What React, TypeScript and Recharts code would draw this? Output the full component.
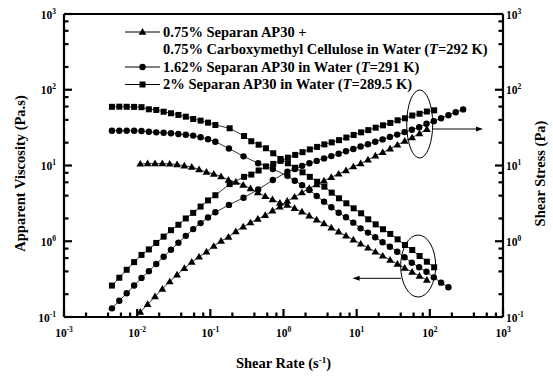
import React from 'react';
import { ScatterChart, Scatter, XAxis, YAxis, Legend, ReferenceDot, ReferenceLine, Label } from 'recharts';

const FONT = '"Liberation Serif", "Times New Roman", Times, serif';
const INK = '#000';

// axis decades + minor tick steps (2,4,6,8 like the original)
const rateDecades = [0.001, 0.01, 0.1, 1, 10, 100, 1000];
const valueDecades = [0.1, 1, 10, 100, 1000];
const minorSteps = [2, 4, 6, 8];

// 2% Separan AP30 in water (squares)
const sqRate = [0.00452, 0.0057, 0.00719, 0.00908, 0.01146, 0.01445, 0.01824, 0.023, 0.029, 0.0366, 0.0462, 0.0583, 0.0736, 0.0929, 0.1172, 0.1837, 0.289, 0.363, 0.457, 0.575, 0.724, 0.912, 1.148, 1.445, 1.82, 2.29, 2.88, 3.62, 4.56, 5.74, 7.23, 9.1, 11.5, 14.4, 18.2, 22.9, 28.8, 36.3, 45.7, 57.5, 72.4, 91.1, 114.6];
const sqViscosity = [59.5, 59.8, 59.6, 59.4, 58.9, 55.2, 54.1, 51.3, 48.9, 46.5, 44.1, 41.1, 39.1, 36.8, 34.3, 31.0, 24.5, 20.9, 18.8, 16.9, 14.5, 12.2, 10.7, 9.33, 8.13, 7.08, 6.1, 5.25, 4.38, 3.69, 3.17, 2.72, 2.34, 1.95, 1.67, 1.44, 1.25, 1.06, 0.893, 0.766, 0.638, 0.537, 0.453];
const sqStress = [0.26, 0.33, 0.42, 0.53, 0.66, 0.78, 0.95, 1.15, 1.4, 1.65, 2.0, 2.37, 2.87, 3.46, 4.05, 5.69, 7.08, 7.59, 8.59, 9.72, 10.5, 11.5, 12.7, 13.8, 15.0, 16.3, 17.6, 19.0, 20.2, 21.6, 23.4, 25.3, 27.4, 29.3, 31.6, 33.9, 36.5, 39.5, 42.0, 45.7, 48.2, 51.6, 53.5];

// 1.62% Separan AP30 in water (circles)
const ciRate = [0.00452, 0.0057, 0.00719, 0.00908, 0.01146, 0.01445, 0.01824, 0.023, 0.029, 0.0366, 0.0462, 0.0583, 0.0736, 0.0929, 0.1172, 0.1795, 0.2844, 0.4508, 0.7145, 1.132, 1.426, 1.795, 2.259, 2.844, 3.581, 4.508, 5.675, 7.145, 8.995, 11.32, 14.26, 17.95, 22.59, 28.44, 35.81, 45.08, 56.75, 71.45, 89.95, 113.2, 142.6, 179.5];
const ciViscosity = [28.8, 28.8, 28.7, 28.7, 28.6, 27.9, 27.4, 27.1, 26.6, 26.1, 25.5, 24.8, 23.6, 22.2, 20.6, 16.8, 13.2, 10.7, 9.0, 7.3, 6.3, 5.5, 4.75, 3.96, 3.33, 2.81, 2.38, 2.07, 1.76, 1.48, 1.3, 1.13, 0.968, 0.847, 0.728, 0.614, 0.521, 0.453, 0.396, 0.334, 0.284, 0.247];
const ciStressRate = [0.00452, 0.0057, 0.00719, 0.00908, 0.01146, 0.01445, 0.01824, 0.023, 0.029, 0.0366, 0.0462, 0.0583, 0.0736, 0.0929, 0.1172, 0.1795, 0.2844, 0.4508, 0.7145, 1.132, 1.426, 1.795, 2.259, 2.844, 3.581, 4.508, 5.675, 7.145, 8.995, 11.32, 14.26, 17.95, 22.59, 28.44, 35.81, 45.08, 56.75, 71.45, 89.95, 113.2, 142.6, 179.5, 226, 285];
const ciStress = [0.13, 0.164, 0.206, 0.261, 0.328, 0.403, 0.5, 0.623, 0.771, 0.955, 1.178, 1.446, 1.737, 2.06, 2.41, 3.02, 3.75, 4.82, 6.43, 8.26, 8.98, 9.9, 10.7, 11.5, 12.4, 13.3, 14.3, 15.4, 16.5, 17.8, 19.1, 20.6, 22.1, 23.8, 25.6, 27.6, 29.7, 32.0, 35.5, 38.5, 42.0, 46.0, 50.5, 55.0];

// 0.75% Separan AP30 + 0.75% CMC in water (triangles)
const trRate = [0.01104, 0.0139, 0.01754, 0.02208, 0.02786, 0.03508, 0.04416, 0.05572, 0.07015, 0.0885, 0.1114, 0.1403, 0.177, 0.2228, 0.2812, 0.354, 0.4457, 0.5623, 0.7079, 0.893, 1.125, 1.416, 1.786, 2.249, 2.838, 3.573, 4.498, 5.675, 7.145, 9.016, 11.35, 14.29, 18.03, 22.7, 28.64, 36.06, 45.39, 57.28, 72.11, 90.99];
const trViscosity = [10.5, 10.6, 10.6, 10.6, 10.5, 10.3, 9.93, 9.55, 8.85, 8.2, 7.73, 7.16, 6.44, 6.05, 5.53, 4.97, 4.41, 3.92, 3.56, 3.2, 3.01, 2.72, 2.45, 2.17, 1.92, 1.71, 1.51, 1.33, 1.18, 1.045, 0.923, 0.817, 0.723, 0.641, 0.565, 0.501, 0.444, 0.393, 0.348, 0.308];
const trStress = [0.116, 0.147, 0.186, 0.234, 0.293, 0.361, 0.439, 0.532, 0.621, 0.726, 0.861, 1.005, 1.14, 1.348, 1.555, 1.76, 1.966, 2.2, 2.52, 2.86, 3.39, 3.85, 4.38, 5.0, 5.6, 6.3, 7.0, 7.75, 8.6, 9.65, 10.6, 11.9, 13.4, 14.9, 16.6, 18.7, 21.0, 23.3, 26.5, 30.0];

// annotation anchors (data coords, right axis)
const stressMark = { x: 72.7, y: 35.3 };
const stressArrow = [{ x: 107.6, y: 30.3 }, { x: 533, y: 30.3 }];
const viscMark = { x: 69.3, y: 0.471 };
const viscArrow = [{ x: 40.3, y: 0.324 }, { x: 8.8, y: 0.324 }];

const buildTicks = (decades: number[]) =>
  decades.flatMap((d, i) => (i < decades.length - 1 ? [d, ...minorSteps.map((s) => +(d * s).toPrecision(3))] : [d]));
const rateTicks = buildTicks(rateDecades);
const valueTicks = buildTicks(valueDecades);
const X_MIN = rateDecades[0];
const X_MAX = rateDecades[rateDecades.length - 1];
const Y_MIN = valueDecades[0];
const Y_MAX = valueDecades[valueDecades.length - 1];

const pts = (xs: number[], ys: number[]) => xs.map((x, i) => ({ x, y: ys[i] }));

const TM = 4; // tick margin
const MAJOR = 8;
const MINOR = 4.5;
const isMajor = (v: number) => Math.abs(Math.log10(v) - Math.round(Math.log10(v))) < 1e-6;
const expOf = (v: number) => String(Math.round(Math.log10(v)));

const Pow = ({ x, y, v, anchor }: any) => (
  <text x={x} y={y} textAnchor={anchor} fontFamily={FONT} fontWeight="bold" fontSize={11.5} fill={INK}>
    10<tspan dy={-5} fontSize={7.5}>{expOf(v)}</tspan>
  </text>
);

// inward tick marks (filled bars) drawn from the tick renderer
const vMark = (x: number, y: number, len: number) => `M${x - 1.1},${y}h2.2v${len}h-2.2z`;
const hMark = (x: number, y: number, len: number) => `M${x},${y - 1.1}v2.2h${len}v-2.2z`;

const BottomTick = (p: any) => {
  const v = p.payload.value;
  const ay = p.y - TM;
  const major = isMajor(v);
  return (
    <g>
      <path d={vMark(p.x, ay, -(major ? MAJOR : MINOR))} fill={INK} stroke="none" />
      {major ? <Pow x={p.x} y={ay + 20} v={v} anchor="middle" /> : null}
    </g>
  );
};
const TopTick = (p: any) => {
  const v = p.payload.value;
  const ay = p.y + TM;
  return (
    <g>
      <path d={vMark(p.x, ay, isMajor(v) ? MAJOR : MINOR)} fill={INK} stroke="none" />
    </g>
  );
};
const LeftTick = (p: any) => {
  const v = p.payload.value;
  const ax = p.x + TM;
  const major = isMajor(v);
  return (
    <g>
      <path d={hMark(ax, p.y, major ? MAJOR : MINOR)} fill={INK} stroke="none" />
      {major ? <Pow x={ax - 8} y={p.y + 4.5} v={v} anchor="end" /> : null}
    </g>
  );
};
const RightTick = (p: any) => {
  const v = p.payload.value;
  const ax = p.x - TM;
  const major = isMajor(v);
  return (
    <g>
      <path d={hMark(ax, p.y, -(major ? MAJOR : MINOR))} fill={INK} stroke="none" />
      {major ? <Pow x={ax + 3} y={p.y + 4.5} v={v} anchor="start" /> : null}
    </g>
  );
};

const Square = ({ cx, cy }: any) => <rect x={cx - 3} y={cy - 3} width={6} height={6} fill={INK} />;
const Dot = ({ cx, cy }: any) => <circle cx={cx} cy={cy} r={3.2} fill={INK} />;
const Tri = ({ cx, cy }: any) => (
  <polygon points={`${cx},${cy - 4} ${cx - 3.9},${cy + 2.7} ${cx + 3.9},${cy + 2.7}`} fill={INK} />
);

const titleStyle = { fontFamily: FONT, fontWeight: 'bold' as const, fontSize: 14.5, fill: INK };

const XTitle = ({ viewBox }: any) => (
  <text x={viewBox.x + viewBox.width / 2} y={viewBox.y + 51} textAnchor="middle" style={titleStyle}>
    Shear Rate (s<tspan dy={-5} fontSize={9}>-1</tspan>
    <tspan dy={5}>)</tspan>
  </text>
);

const YTitle = (text: string, dx: number) => ({ viewBox }: any) => {
  const cx = viewBox.x + dx;
  const cy = viewBox.y + viewBox.height / 2 + 8;
  return (
    <text x={cx} y={cy} transform={`rotate(-90 ${cx} ${cy})`} textAnchor="middle" dominantBaseline="central" style={titleStyle}>
      {text}
    </text>
  );
};

const Ellipse = (rx: number, ry: number) => (p: any) => (
  <ellipse cx={p.cx} cy={p.cy} rx={rx} ry={ry} fill="none" stroke={INK} strokeWidth={1} />
);

const Arrow = (p: any) => {
  const d = p.x2 > p.x1 ? 1 : -1;
  return (
    <g>
      <line x1={p.x1} y1={p.y1} x2={p.x2 - d * 5} y2={p.y2} stroke={INK} strokeWidth={1} />
      <polygon points={`${p.x2},${p.y2} ${p.x2 - d * 7},${p.y2 - 2.5} ${p.x2 - d * 7},${p.y2 + 2.5}`} fill={INK} />
    </g>
  );
};

const LegendBox = () => {
  const rows = [10, 27.5, 45, 62.5];
  const line = (y: number) => <line x1={5} x2={40} y1={y} y2={y} stroke={INK} strokeWidth={1} />;
  return (
    <svg width={390} height={74} style={{ overflow: 'visible', display: 'block' }}>
      {line(rows[0])}
      <Tri cx={22.5} cy={rows[0]} />
      {line(rows[2])}
      <Dot cx={22.5} cy={rows[2]} />
      {line(rows[3])}
      <Square cx={22.5} cy={rows[3]} />
      <g fontFamily={FONT} fontWeight="bold" fontSize={14.5} fill={INK}>
        <text x={43} y={rows[0] + 4.5}>0.75% Separan AP30 +</text>
        <text x={43} y={rows[1] + 4.5}>
          0.75% Carboxymethyl Cellulose in Water (<tspan fontStyle="italic">T</tspan>=292 K)
        </text>
        <text x={43} y={rows[2] + 4.5}>
          1.62% Separan AP30 in Water (<tspan fontStyle="italic">T</tspan>=291 K)
        </text>
        <text x={43} y={rows[3] + 4.5}>
          2% Separan AP30 in Water (<tspan fontStyle="italic">T</tspan>=289.5 K)
        </text>
      </g>
    </svg>
  );
};

const axisLine = { stroke: INK, strokeWidth: 2.2 };
const seriesLine = { stroke: INK, strokeWidth: 0.8 };

export default function App() {
  return (
    <div style={{ position: 'absolute', left: 0, top: 0, background: '#fff' }}>
      <ScatterChart width={553} height={376} margin={{ top: 4, right: 10, bottom: 19, left: 14 }}>
        <XAxis xAxisId="b" type="number" dataKey="x" scale="log" domain={[X_MIN, X_MAX]} ticks={rateTicks}
          interval={0} allowDataOverflow tickSize={0} tickMargin={TM} tickLine={false} tick={BottomTick}
          axisLine={axisLine} height={40}>
          <Label content={XTitle} />
        </XAxis>
        <XAxis xAxisId="t" orientation="top" type="number" scale="log" domain={[X_MIN, X_MAX]} ticks={rateTicks}
          interval={0} allowDataOverflow tickSize={0} tickMargin={TM} tickLine={false} tick={TopTick}
          axisLine={axisLine} height={10} />
        <YAxis yAxisId="l" type="number" dataKey="y" scale="log" domain={[Y_MIN, Y_MAX]} ticks={valueTicks}
          interval={0} allowDataOverflow tickSize={0} tickMargin={TM} tickLine={false} tick={LeftTick}
          axisLine={axisLine} width={50}>
          <Label content={YTitle('Apparent Viscosity (Pa.s)', 6)} />
        </YAxis>
        <YAxis yAxisId="r" orientation="right" type="number" dataKey="y" scale="log" domain={[Y_MIN, Y_MAX]}
          ticks={valueTicks} interval={0} allowDataOverflow tickSize={0} tickMargin={TM} tickLine={false}
          tick={RightTick} axisLine={axisLine} width={40}>
          <Label content={YTitle('Shear Stress (Pa)', 37)} />
        </YAxis>

        <Scatter name="tr-visc" xAxisId="b" yAxisId="l" data={pts(trRate, trViscosity)} shape={Tri}
          line={seriesLine} lineType="joint" fill={INK} isAnimationActive={false} />
        <Scatter name="ci-visc" xAxisId="b" yAxisId="l" data={pts(ciRate, ciViscosity)} shape={Dot}
          line={seriesLine} lineType="joint" fill={INK} isAnimationActive={false} />
        <Scatter name="sq-visc" xAxisId="b" yAxisId="l" data={pts(sqRate, sqViscosity)} shape={Square}
          line={seriesLine} lineType="joint" fill={INK} isAnimationActive={false} />
        <Scatter name="tr-stress" xAxisId="b" yAxisId="r" data={pts(trRate, trStress)} shape={Tri}
          line={seriesLine} lineType="joint" fill={INK} isAnimationActive={false} />
        <Scatter name="ci-stress" xAxisId="b" yAxisId="r" data={pts(ciStressRate, ciStress)} shape={Dot}
          line={seriesLine} lineType="joint" fill={INK} isAnimationActive={false} />
        <Scatter name="sq-stress" xAxisId="b" yAxisId="r" data={pts(sqRate, sqStress)} shape={Square}
          line={seriesLine} lineType="joint" fill={INK} isAnimationActive={false} />

        <ReferenceDot xAxisId="b" yAxisId="r" x={stressMark.x} y={stressMark.y} shape={Ellipse(13, 34)} />
        <ReferenceLine xAxisId="b" yAxisId="r" segment={stressArrow} shape={Arrow} />
        <ReferenceDot xAxisId="b" yAxisId="r" x={viscMark.x} y={viscMark.y} shape={Ellipse(17.5, 31)} />
        <ReferenceLine xAxisId="b" yAxisId="r" segment={viscArrow} shape={Arrow} />

        <Legend layout="vertical" align="center" verticalAlign="middle" content={LegendBox}
          wrapperStyle={{ left: 120, top: 22, width: 390, height: 74 }} />
      </ScatterChart>
    </div>
  );
}
